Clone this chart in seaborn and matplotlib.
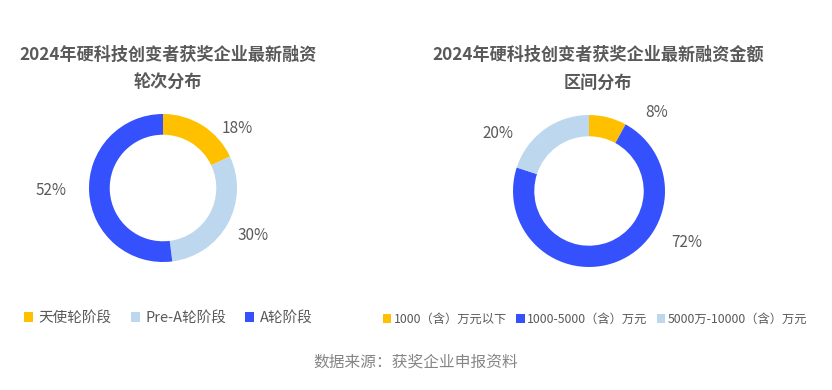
"""
Two donut charts: latest financing round / amount range of 2024 award winners.
"""

import matplotlib
matplotlib.use("Agg")
import matplotlib.pyplot as plt
from matplotlib.patches import Patch
import seaborn as sns

# ---------------------------------------------------------------------------
# Data
# ---------------------------------------------------------------------------
ROUND_TITLE = ["2024年硬科技创变者获奖企业最新融资", "轮次分布"]
ROUND_LABELS = ["天使轮阶段", "Pre-A轮阶段", "A轮阶段"]
ROUND_SHARE = [18, 30, 52]

AMOUNT_TITLE = ["2024年硬科技创变者获奖企业最新融资金额", "区间分布"]
AMOUNT_LABELS = ["1000（含）万元以下", "1000-5000（含）万元", "5000万-10000（含）万元"]
AMOUNT_SHARE = [8, 72, 20]

SOURCE = "数据来源：获奖企业申报资料"

# ---------------------------------------------------------------------------
# Style
# ---------------------------------------------------------------------------
YELLOW = "#FFC000"
LIGHT = "#BDD7EE"
BLUE = "#3451FD"
ROUND_COLORS = [YELLOW, LIGHT, BLUE]
AMOUNT_COLORS = [YELLOW, BLUE, LIGHT]

TITLE_COLOR = "#595959"
LABEL_COLOR = "#595959"

# label spots in units of the pie radius (layout only)
ROUND_LABEL_XY = [(1.01, 0.81), (1.22, -0.64), (-1.51, -0.03)]
AMOUNT_LABEL_XY = [(0.89, 1.03), (1.28, -0.68), (-1.20, 0.76)]

sns.set_theme(style="white")
plt.rcParams["font.family"] = ["Noto Sans CJK SC", "DejaVu Sans"]

W, H = 832, 390
fig = plt.figure(figsize=(W / 100, H / 100), dpi=100)
fig.patch.set_facecolor("white")


def px_axes(cx, cy, r):
    return fig.add_axes([(cx - r) / W, (H - cy - r) / H, 2 * r / W, 2 * r / H])


def donut(ax, shares, colors, label_xy):
    ax.pie(shares, colors=colors, startangle=90, counterclock=False,
           radius=1, wedgeprops=dict(width=0.28, linewidth=0))
    for share, (x, y) in zip(shares, label_xy):
        ax.text(x, y, f"{share}%", ha="center", va="center",
                fontsize=11, color=LABEL_COLOR)
    ax.set_xlim(-1, 1)
    ax.set_ylim(-1, 1)
    ax.set_axis_off()


ax1 = px_axes(163, 188, 74)
donut(ax1, ROUND_SHARE, ROUND_COLORS, ROUND_LABEL_XY)

ax2 = px_axes(589, 191, 76)
donut(ax2, AMOUNT_SHARE, AMOUNT_COLORS, AMOUNT_LABEL_XY)

# titles
for cx, lines in [(168, ROUND_TITLE), (598, AMOUNT_TITLE)]:
    for cy, line in zip([55, 83], lines):
        fig.text(cx / W, 1 - cy / H, line, ha="center", va="center",
                 fontsize=12.3, fontweight="bold", color=TITLE_COLOR)

# legends
h1 = [Patch(facecolor=c, edgecolor="none") for c in ROUND_COLORS]
fig.legend(h1, ROUND_LABELS, loc="center left",
           bbox_to_anchor=(18 / W, 1 - 318 / H), ncol=3, frameon=False,
           fontsize=10.5, handlelength=0.65, handleheight=0.65,
           handletextpad=0.35, columnspacing=1.3, borderaxespad=0,
           labelcolor=LABEL_COLOR)

h2 = [Patch(facecolor=c, edgecolor="none") for c in AMOUNT_COLORS]
fig.legend(h2, AMOUNT_LABELS, loc="center left",
           bbox_to_anchor=(378 / W, 1 - 319 / H), ncol=3, frameon=False,
           fontsize=8.8, handlelength=0.7, handleheight=0.7,
           handletextpad=0.2, columnspacing=0.75, borderaxespad=0,
           labelcolor=LABEL_COLOR)

fig.text(416 / W, 1 - 362 / H, SOURCE, ha="center", va="center",
         fontsize=11.3, color="#858585")

fig.savefig("out.png", dpi=100, facecolor="white")
